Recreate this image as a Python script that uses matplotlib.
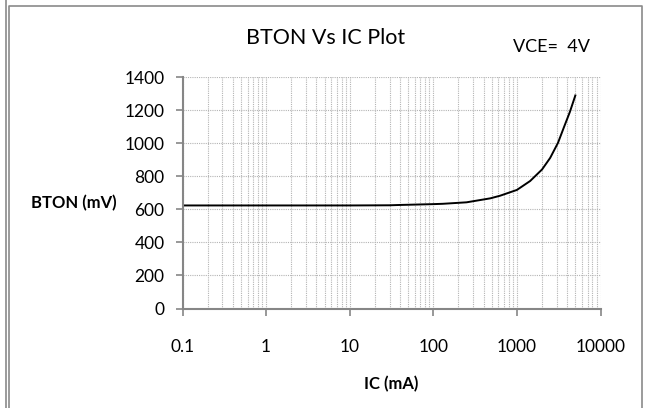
import matplotlib
matplotlib.use('Agg')
import matplotlib.pyplot as plt
from matplotlib.lines import Line2D
from matplotlib.ticker import FixedLocator, FixedFormatter, LogLocator, NullFormatter

plt.rcParams['font.family'] = ['Lato', 'DejaVu Sans']

# values
ic_ma = [0.1, 1, 10, 30, 40, 100, 130, 250, 480, 630, 1000, 1440, 2000, 2500, 3100, 3700, 4300, 5000]
bton_mv = [624, 624, 624, 625, 627, 632, 634, 643, 667, 683, 718, 772, 842, 912, 1003, 1105, 1190, 1290]

x_ticks = [0.1, 1, 10, 100, 1000, 10000]
x_tick_labels = ['0.1', '1', '10', '100', '1000', '10000']
y_ticks = [0, 200, 400, 600, 800, 1000, 1200, 1400]

W, H = 646, 408
fig = plt.figure(figsize=(W / 100, H / 100), dpi=100)

def fx(px):
    return px / W

def fy(py):
    return 1 - py / H

left, right, top, bottom = 182.5, 600.5, 77.3, 308.5
ax = fig.add_axes([fx(left), fy(bottom), fx(right - left), (bottom - top) / H])

ax.plot(ic_ma, bton_mv, color='black', lw=1.4)

ax.set_xscale('log')
ax.set_xlim(0.1, 10000)
ax.set_ylim(0, 1400)
ax.xaxis.set_major_locator(FixedLocator(x_ticks))
ax.xaxis.set_major_formatter(FixedFormatter(x_tick_labels))
ax.xaxis.set_minor_locator(LogLocator(base=10, subs=range(2, 10), numticks=20))
ax.xaxis.set_minor_formatter(NullFormatter())
ax.set_yticks(y_ticks)

grid_kw = dict(color='#b4b4b4', linestyle=(0, (1, 1)), linewidth=0.8)
ax.grid(True, which='major', axis='both', **grid_kw)
ax.grid(True, which='minor', axis='x', **grid_kw)
ax.set_axisbelow(True)

for side in ['top', 'right']:
    ax.spines[side].set_visible(False)
for side in ['left', 'bottom']:
    ax.spines[side].set_color('#868686')
    ax.spines[side].set_linewidth(1.5)

ax.tick_params(axis='both', which='major', direction='out', length=5, width=1.2,
               color='#868686', labelsize=12.5, labelcolor='black')
ax.tick_params(axis='x', which='major', pad=17)
ax.tick_params(axis='y', which='major', pad=8)
ax.tick_params(axis='x', which='minor', length=0)

fig.text(fx(325.5), fy(38), 'BTON Vs IC Plot', ha='center', va='center', fontsize=15.5)
fig.text(fx(551.7), fy(46.7), 'VCE=  4V', ha='center', va='center', fontsize=13)
fig.text(fx(74), fy(203), 'BTON (mV)', ha='center', va='center', fontsize=12, fontweight='bold')
fig.text(fx(391.5), fy(384), 'IC (mA)', ha='center', va='center', fontsize=12, fontweight='bold')

# chart area border
border = '#8a8a8a'
fig.add_artist(Line2D([fx(5.7), fx(5.7)], [0, 1], color=border, lw=1.2))
fig.add_artist(Line2D([fx(8.7), fx(8.7), fx(642), fx(642)], [0, fy(5.5), fy(5.5), 0],
                      color=border, lw=1.2))

fig.savefig('out.png', dpi=100)
